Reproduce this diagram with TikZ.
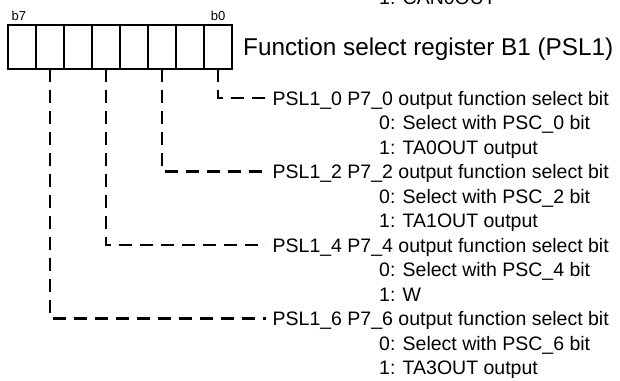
\documentclass[tikz,border=0pt]{standalone}
\usepackage{fontspec}
\setmainfont{Liberation Sans}
\usetikzlibrary{positioning}

\begin{document}
\begin{tikzpicture}[
                    x=1pt, y=-1pt,
                    cell/.style={
                        draw,
                        minimum width=28pt,
                        minimum height=44pt,
                        inner sep=0pt,
                        outer sep=0pt,
                        line width=1.6pt
                    },
                    bitlabel/.style={
                        inner sep=0pt,
                        font=\fontsize{13}{15}\selectfont
                    },
                    title/.style={
                        inner sep=0pt,
                        text height=17pt,
                        text depth=0pt,
                        font=\fontsize{24.3}{29}\selectfont
                    },
                    line/.style={
                        anchor=west,
                        inner sep=0pt,
                        text height=14pt,
                        text depth=0pt,
                        font=\fontsize{19.5}{24.5}\selectfont
                    },
                    link/.style={
                        line width=2.6pt,
                        dash pattern=on 13pt off 8pt
                    }
                ]
                    \useasboundingbox (0,0) rectangle (620,380);

                    % Register cells
                    \node[cell] (c7) at (22,47) {};
                    \node[cell] (c6) [right=0pt of c7] {};
                    \node[cell] (c5) [right=0pt of c6] {};
                    \node[cell] (c4) [right=0pt of c5] {};
                    \node[cell] (c3) [right=0pt of c4] {};
                    \node[cell] (c2) [right=0pt of c3] {};
                    \node[cell] (c1) [right=0pt of c2] {};
                    \node[cell] (c0) [right=0pt of c1] {};

                    \node[bitlabel, anchor=south west] (b7) [above right=4pt and 3.5pt of c7.north west] {b7};
                    \node[bitlabel, anchor=south] (b0) [above=4pt of c0.north] {b0};
                    \node[title, anchor=west] (reg) [right=11pt of c0] {Function select register B1 (PSL1)};

                    % Bit descriptions
                    \node[line] (prev) at (379,-2) {1: CAN0OUT};

                    \node[line] (h0) at (272.5,98) {PSL1\_0 P7\_0 output function select bit};
                    \node[line] (h0a) at (379,122.5) {0: Select with PSC\_0 bit};
                    \node[line] (h0b) at (379,147) {1: TA0OUT output};

                    \node[line] (h2) at (272.5,171.5) {PSL1\_2 P7\_2 output function select bit};
                    \node[line] (h2a) at (379,196) {0: Select with PSC\_2 bit};
                    \node[line] (h2b) at (379,220.5) {1: TA1OUT output};

                    \node[line] (h4) at (272.5,245) {PSL1\_4 P7\_4 output function select bit};
                    \node[line] (h4a) at (379,269.5) {0: Select with PSC\_4 bit};
                    \node[line] (h4b) at (379,294) {1: W};

                    \node[line] (h6) at (272.5,318.5) {PSL1\_6 P7\_6 output function select bit};
                    \node[line] (h6a) at (379,343) {0: Select with PSC\_6 bit};
                    \node[line] (h6b) at (379,367.5) {1: TA3OUT output};

                    % Edges
                    \draw[link] (c0.south) |- ([xshift=-6.5pt]h0.west);
                    \draw[link] (c2.south) |- ([xshift=-6.5pt]h2.west);
                    \draw[link] (c4.south) |- ([xshift=-6.5pt]h4.west);
                    \draw[link] (c6.south) |- ([xshift=-6.5pt]h6.west);
                \end{tikzpicture}
\end{document}
